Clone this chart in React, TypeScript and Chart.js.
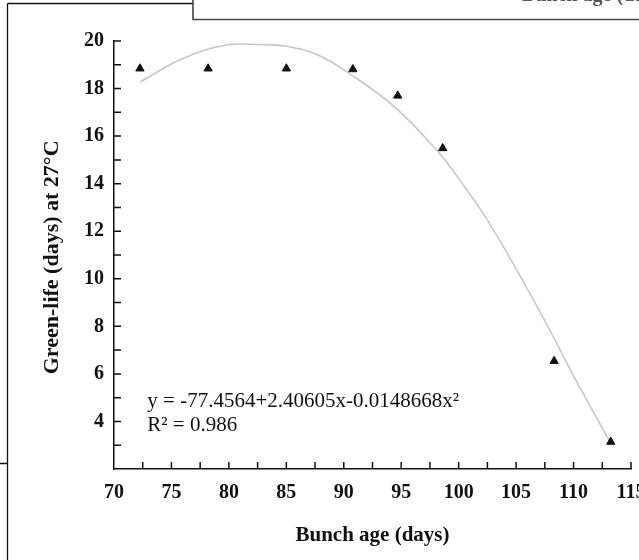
import React, { useEffect, useRef } from "react";
import { Chart, registerables } from "chart.js";

Chart.register(...registerables);

// Observed data points (triangles)
const bunchAge = [72.26, 78.19, 85.0, 90.79, 94.7, 98.61, 108.31, 113.24];
const greenLife = [18.84, 18.84, 18.84, 18.81, 17.7, 15.49, 6.54, 3.14];

// Fitted curve
const fitAge = [72.26, 75.99, 79.64, 82.68, 85.0, 87.61, 90.5, 94.56, 98.32, 100.07, 102.38, 104.69, 107.59, 109.91, 113.1];
const fitLife = [18.28, 19.26, 19.82, 19.85, 19.78, 19.44, 18.63, 17.17, 15.28, 14.17, 12.56, 10.68, 8.16, 6.0, 3.2];

const xTickLabels = [70, 75, 80, 85, 90, 95, 100, 105, 110, 115];
const yTickLabels = [4, 6, 8, 10, 12, 14, 16, 18, 20];

const xTitle = "Bunch age (days)";
const yTitle = "Green-life (days) at 27°C";
const equationLines = ["y = -77.4564+2.40605x-0.0148668x²", "R² = 0.986"];
const equationAnchor = { x: 72.9, y: [4.83, 3.82] };
const yTitleCenterValue = 10.9;
const topBoxText = "Bunch age (days)";

const SERIF = "'Liberation Serif', 'Times New Roman', serif";

const decorPlugin = {
  id: "decor",
  afterDraw(chart: any) {
    const { ctx, scales, chartArea } = chart;
    const x = scales.x;
    const y = scales.y;
    ctx.save();
    // inward tick marks
    ctx.strokeStyle = "#111";
    ctx.lineWidth = 1.5;
    ctx.beginPath();
    y.ticks.forEach((t: any) => {
      if (t.value <= y.min) return;
      const py = y.getPixelForValue(t.value);
      ctx.moveTo(chartArea.left, py);
      ctx.lineTo(chartArea.left + 7, py);
    });
    x.ticks.forEach((t: any) => {
      if (t.value <= x.min) return;
      const px = x.getPixelForValue(t.value);
      ctx.moveTo(px, chartArea.bottom);
      ctx.lineTo(px, chartArea.bottom - 7);
    });
    ctx.stroke();

    // equation text
    ctx.fillStyle = "#111";
    ctx.font = `21px ${SERIF}`;
    ctx.textAlign = "left";
    ctx.textBaseline = "middle";
    equationLines.forEach((line, i) => {
      ctx.fillText(line, x.getPixelForValue(equationAnchor.x), y.getPixelForValue(equationAnchor.y[i]));
    });

    // y axis title
    ctx.save();
    ctx.translate(52, y.getPixelForValue(yTitleCenterValue));
    ctx.rotate(-Math.PI / 2);
    ctx.font = `bold 22px ${SERIF}`;
    ctx.textAlign = "center";
    ctx.textBaseline = "middle";
    ctx.fillStyle = "#111";
    ctx.fillText(yTitle, 0, 0);
    ctx.restore();

    // surrounding figure frame (cropped)
    ctx.strokeStyle = "#111";
    ctx.lineWidth = 1.3;
    ctx.beginPath();
    ctx.moveTo(7.5, 3.5);
    ctx.lineTo(7.5, 560);
    ctx.moveTo(7.5, 3.5);
    ctx.lineTo(193, 3.5);
    ctx.moveTo(0, 463.5);
    ctx.lineTo(7.5, 463.5);
    ctx.stroke();

    ctx.strokeStyle = "#444";
    ctx.lineWidth = 1.6;
    ctx.beginPath();
    ctx.moveTo(193, -2);
    ctx.lineTo(193, 19.5);
    ctx.lineTo(645, 19.5);
    ctx.stroke();

    ctx.fillStyle = "#555";
    ctx.font = `bold 20px ${SERIF}`;
    ctx.textAlign = "left";
    ctx.textBaseline = "alphabetic";
    ctx.fillText(topBoxText, 522, 1);
    ctx.restore();
  },
};

export default function App() {
  const canvasRef = useRef<HTMLCanvasElement | null>(null);

  useEffect(() => {
    const canvas = canvasRef.current;
    if (!canvas) return;
    const chart = new Chart(canvas, {
      type: "scatter",
      data: {
        datasets: [
          {
            type: "scatter",
            data: bunchAge.map((a, i) => ({ x: a, y: greenLife[i] })),
            pointStyle: "triangle",
            radius: 4.8,
            backgroundColor: "#111",
            borderColor: "#111",
            borderWidth: 1,
            order: 0,
          },
          {
            type: "line",
            data: fitAge.map((a, i) => ({ x: a, y: fitLife[i] })),
            borderColor: "#c6c6c6",
            borderWidth: 1.6,
            pointRadius: 0,
            tension: 0.4,
            fill: false,
            order: 1,
          } as any,
        ],
      },
      options: {
        responsive: false,
        animation: false,
        layout: { padding: { left: 0, right: 8, top: 41, bottom: 0 } },
        plugins: {
          legend: { display: false },
          tooltip: { enabled: false },
        },
        scales: {
          x: {
            type: "linear",
            min: 70,
            max: 115,
            grid: { display: false, drawTicks: false },
            border: { display: true, color: "#111", width: 1.5 },
            ticks: {
              stepSize: 2.5,
              autoSkip: false,
              maxRotation: 0,
              padding: 12,
              color: "#111",
              font: { family: SERIF, size: 20, weight: "bold" },
              callback: (v: any) => (xTickLabels.includes(Number(v)) ? String(v) : ""),
            },
            title: {
              display: true,
              text: xTitle,
              color: "#111",
              font: { family: SERIF, size: 21, weight: "bold" },
              padding: { top: 0, bottom: 12 },
            },
            afterFit: (s: any) => {
              s.height = 91;
              s.paddingLeft = 0;
              s.paddingRight = 0;
            },
          },
          y: {
            type: "linear",
            min: 2,
            max: 20,
            grid: { display: false, drawTicks: false },
            border: { display: true, color: "#111", width: 1.5 },
            ticks: {
              stepSize: 1,
              autoSkip: false,
              padding: 10,
              color: "#111",
              font: { family: SERIF, size: 20, weight: "bold" },
              callback: (v: any) => (yTickLabels.includes(Number(v)) ? String(v) : ""),
            },
            title: { display: false },
            afterFit: (s: any) => {
              s.width = 114;
              s.paddingTop = 0;
              s.paddingBottom = 0;
            },
          },
        },
      },
      plugins: [decorPlugin],
    });
    return () => chart.destroy();
  }, []);

  return (
    <div style={{ position: "fixed", left: 0, top: 0, width: 639, height: 560, background: "#fff" }}>
      <canvas ref={canvasRef} width={639} height={560} style={{ display: "block" }} />
    </div>
  );
}
